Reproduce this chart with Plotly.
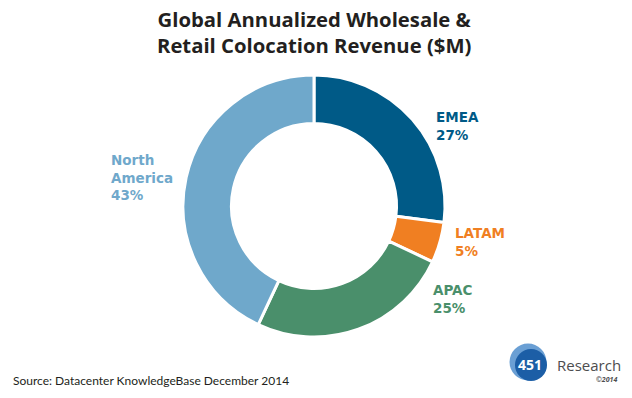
import plotly.graph_objects as go

regions = ["EMEA", "LATAM", "APAC", "North America"]
shares = [27, 5, 25, 43]
colors = ["#005A87", "#F07F22", "#4A8F6B", "#6FA8CB"]
label_text = ["<b>EMEA<br>27%</b>", "<b>LATAM<br>5%</b>", "<b>APAC<br>25%</b>", "<b>North<br>America<br>43%</b>"]
title_text = "<b>Global Annualized Wholesale &<br>Retail Colocation Revenue ($M)</b>"
source_text = "Source: Datacenter KnowledgeBase December 2014"

W, H = 632, 398
cx, cy, r = 314, 206, 131

fig = go.Figure(go.Pie(
    labels=regions, values=shares, hole=0.63, sort=False, direction="clockwise",
    rotation=0, marker=dict(colors=colors, line=dict(color="white", width=3)),
    textinfo="none", hoverinfo="label+percent", showlegend=False,
    domain=dict(x=[(cx - r) / W, (cx + r) / W], y=[(H - cy - r) / H, (H - cy + r) / H]),
))

def px(x, y):
    return x / W, 1 - y / H

label_pos = [(434, 126), (453, 241.5), (431, 299), (109, 177.5)]
anns = []
for t, c, (x, y) in zip(label_text, colors, label_pos):
    ax, ay = px(x, y)
    anns.append(dict(text=t, x=ax, y=ay, xref="paper", yref="paper",
                     xanchor="left", yanchor="middle", align="left", showarrow=False,
                     font=dict(family="DejaVu Sans", size=13.5, color=c)))

ax, ay = px(314, 32)
anns.append(dict(text=title_text, x=ax, y=ay, xref="paper", yref="paper",
                 xanchor="center", yanchor="middle", align="center", showarrow=False,
                 font=dict(family="Open Sans", size=20.3, color="#231f20")))

ax, ay = px(11, 380)
anns.append(dict(text=source_text, x=ax, y=ay,
                 xref="paper", yref="paper", xanchor="left", yanchor="middle", showarrow=False,
                 font=dict(family="Lato", size=12, color="#231f20")))
ax, ay = px(530, 364)
anns.append(dict(text="<b>451</b>", x=ax, y=ay, xref="paper", yref="paper",
                 xanchor="center", yanchor="middle", showarrow=False,
                 font=dict(family="Open Sans", size=14, color="white")))
ax, ay = px(555, 365)
anns.append(dict(text="Research", x=ax, y=ay, xref="paper", yref="paper",
                 xanchor="left", yanchor="middle", showarrow=False,
                 font=dict(family="Open Sans", size=15, color="#4d4d4f")))
ax, ay = px(619, 379)
anns.append(dict(text="<i><b>©2014</b></i>", x=ax, y=ay, xref="paper", yref="paper",
                 xanchor="right", yanchor="middle", showarrow=False,
                 font=dict(family="Open Sans", size=7, color="#4d4d4f")))

def circ(x, y, rr, color):
    return dict(type="circle", xref="paper", yref="paper",
                x0=(x - rr) / W, x1=(x + rr) / W, y0=1 - (y + rr) / H, y1=1 - (y - rr) / H,
                fillcolor=color, line=dict(width=0), layer="below")

shapes = [circ(528, 362, 18.5, "#6a9fd4"), circ(531, 365, 16, "#1c5ea6")]

fig.update_layout(
    width=W, height=H, margin=dict(l=0, r=0, t=0, b=0),
    paper_bgcolor="white", plot_bgcolor="white",
    annotations=anns, shapes=shapes,
)

fig.write_html("out.html", config={"displayModeBar": False},
               post_script="document.body.style.margin='0';")
